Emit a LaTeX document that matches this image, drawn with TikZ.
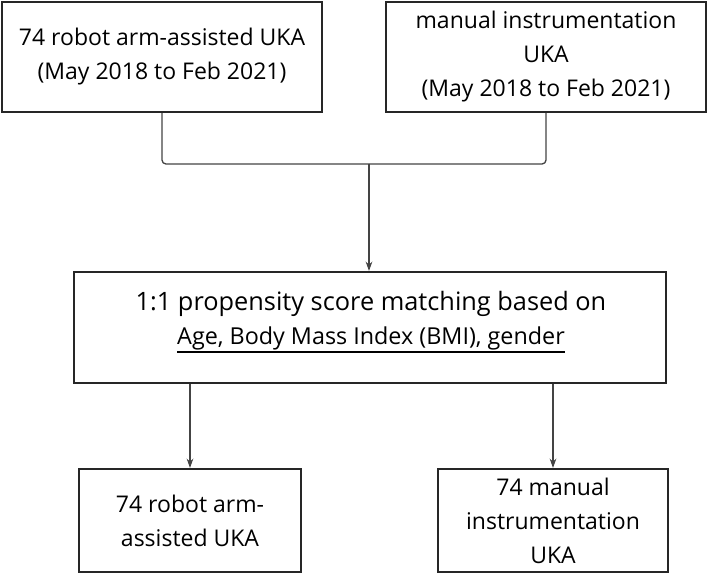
\documentclass[tikz,border=0pt]{standalone}
\usepackage{fontspec}
\setmainfont{Open Sans}
\usetikzlibrary{arrows.meta}
\definecolor{boxline}{HTML}{262626}
\definecolor{connline}{HTML}{444444}
\newcommand\thickul[1]{\setbox0=\hbox{#1}\leavevmode\rlap{\raisebox{\dimexpr-\dp0-2pt\relax}{\rule{\wd0}{1.4pt}}}\box0}
\begin{document}
\begin{tikzpicture}[x=0.75pt,y=-0.75pt,
  stage/.style={draw=boxline,line width=1.6pt,align=center,inner sep=0pt,
    font=\fontsize{17.25pt}{25.5pt}\selectfont,text=black},
  conn/.style={draw=connline,line width=1pt,-{Stealth[length=7pt,width=5pt]}},
  link/.style={draw=connline,line width=1pt,rounded corners=3pt}]
\useasboundingbox (0,0) rectangle (708,575);
\node[stage,minimum width=240pt,minimum height=82.5pt] (A) at (162,57)
  {74 robot arm-assisted UKA\\(May 2018 to Feb 2021)};
\node[stage,minimum width=240pt,minimum height=82.5pt] (B) at (546,57)
  {manual instrumentation\\UKA\\(May 2018 to Feb 2021)};
\node[draw=boxline,line width=1.6pt,minimum width=444pt,minimum height=83.25pt,inner sep=0pt] (M) at (370,327.5) {};
\node[align=center,inner sep=0pt,font=\fontsize{17.5pt}{26pt}\selectfont] (Mt) at (371,322)
  {{\fontsize{19pt}{26pt}\selectfont 1:1 propensity score matching based on}\\
   \thickul{Age, Body Mass Index (BMI), gender}};
\node[stage,minimum width=166.5pt,minimum height=77.25pt] (L) at (190,520.5)
  {74 robot arm-\\assisted UKA};
\node[stage,minimum width=172.5pt,minimum height=77.25pt] (R) at (553,520.5)
  {74 manual\\instrumentation\\UKA};
\coordinate (j) at (369,164);
\draw[link] (A.south) |- (j);
\draw[link] (B.south) |- (j);
\draw[conn] (j) -- (j |- M.north);
\draw[conn] (L.north |- M.south) -- (L.north);
\draw[conn] (R.north |- M.south) -- (R.north);
\end{tikzpicture}
\end{document}
